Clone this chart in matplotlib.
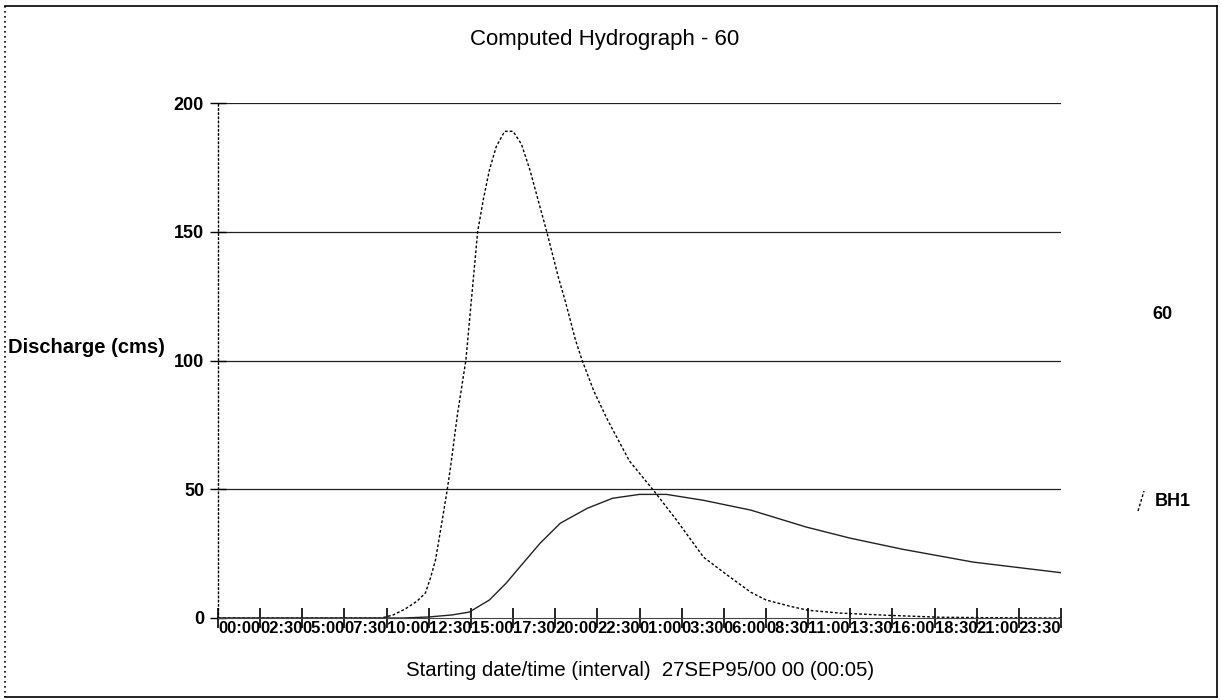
import matplotlib
matplotlib.use("Agg")
import matplotlib.pyplot as plt
from matplotlib.lines import Line2D

plt.rcParams['font.family'] = ['Liberation Sans', 'DejaVu Sans']

# hours since 27SEP95 00:00, discharge in cms
bh1_hours = [0, 9.7, 10.4, 11.1, 11.8, 12.3, 12.6, 12.9, 13.3, 13.6, 13.8, 14.2, 14.7,
             15.05, 15.4, 15.75, 16.1, 16.5, 17.0, 17.5, 18.0, 18.5, 19.0, 19.5, 20.2,
             20.6, 21.2, 21.6, 22.3, 23.1, 24.4, 25.9, 27.2, 28.8, 30.2, 31.6, 32.5,
             33.9, 35.0, 36.9, 39.9, 42.8, 46.0, 50.0]
bh1_flow = [0, 0, 1.2, 3.5, 6.5, 9.7, 15.5, 22.5, 38, 50, 59, 79, 100,
            125, 150, 163, 174, 183, 189, 189, 184, 174, 162, 150, 132,
            123, 108, 100, 88, 77, 61, 49, 38, 23.6, 16.7, 10, 7,
            4.6, 3, 1.9, 1, 0.3, 0.1, 0]

s60_hours = [0, 11.0, 12.5, 13.9, 14.9, 16.1, 17.1, 17.9, 19.1, 20.3, 21.9, 23.4,
             25.0, 26.6, 28.8, 31.6, 34.9, 37.5, 40.6, 44.8, 50.0]
s60_flow = [0, 0, 0.4, 1.2, 2.3, 7, 13.6, 19.8, 29, 36.8, 42.6, 46.5,
            48, 48, 45.7, 41.9, 35.3, 31, 26.7, 21.7, 17.6]

tick_hours = [0, 2.5, 5, 7.5, 10, 12.5, 15, 17.5, 20, 22.5, 25, 27.5, 30, 32.5,
              35, 37.5, 40, 42.5, 45, 47.5, 50]
tick_labels = ['00:00', '02:30', '05:00', '07:30', '10:00', '12:30', '15:00', '17:30',
               '20:00', '22:30', '01:00', '03:30', '06:00', '08:30', '11:00', '13:30',
               '16:00', '18:30', '21:00', '23:30', '']
y_ticks = [0, 50, 100, 150, 200]

fig = plt.figure(figsize=(12.21, 7), dpi=100)
ax = fig.add_axes([218 / 1221, 1 - 618 / 700, 843 / 1221, 515 / 700])

for y in y_ticks[1:]:
    ax.axhline(y, color='#222222', lw=0.9, zorder=1)

ax.plot(bh1_hours, bh1_flow, color='black', lw=1.0, ls=(0, (2, 1.5)), zorder=3)
ax.plot(s60_hours, s60_flow, color='#222222', lw=1.0, zorder=3)

ax.set_xlim(0, 50)
ax.set_ylim(0, 200)
ax.set_xticks(tick_hours)
ax.set_xticklabels(tick_labels, ha='left', fontsize=12, fontweight='bold')
ax.set_yticks(y_ticks)
ax.set_yticklabels([str(v) for v in y_ticks], fontsize=13, fontweight='bold')
ax.tick_params(axis='x', direction='inout', length=14, width=1.2, pad=-5)
ax.tick_params(axis='y', direction='inout', length=12, width=1.0, pad=4)

for side in ['top', 'right']:
    ax.spines[side].set_visible(False)
ax.spines['left'].set_linestyle((0, (1, 2)))
ax.spines['left'].set_linewidth(1.0)
ax.spines['bottom'].set_color('#444444')

fig.text(605 / 1221, 1 - 40 / 700, 'Computed Hydrograph - 60', ha='center', va='center',
         fontsize=16)
fig.text(640 / 1221, 1 - 671 / 700, 'Starting date/time (interval)  27SEP95/00 00 (00:05)',
         ha='center', va='center', fontsize=14.7)
fig.text(8 / 1221, 1 - 347 / 700, 'Discharge (cms)', ha='left', va='center',
         fontsize=14.5, fontweight='bold')

fig.text(1152 / 1221, 1 - 315 / 700, '60', ha='left', va='center', fontsize=13,
         fontweight='bold')
fig.text(1155 / 1221, 1 - 502 / 700, 'BH1', ha='left', va='center', fontsize=13,
         fontweight='bold')
fig.add_artist(Line2D([1138 / 1221, 1144 / 1221], [1 - 511 / 700, 1 - 491 / 700],
                      color='black', lw=1.0, ls=(0, (2, 1.5))))

# page frame from the scan
frame = dict(color='black', lw=1.2)
fig.add_artist(Line2D([5 / 1221, 1217 / 1221], [1 - 6 / 700, 1 - 6 / 700], **frame))
fig.add_artist(Line2D([1217 / 1221, 1217 / 1221], [1 - 6 / 700, 1 - 697 / 700], **frame))
fig.add_artist(Line2D([5 / 1221, 1217 / 1221], [1 - 697 / 700, 1 - 697 / 700], **frame))
fig.add_artist(Line2D([5 / 1221, 5 / 1221], [1 - 6 / 700, 1 - 697 / 700],
                      color='black', lw=1.2, ls=(0, (1, 2))))

fig.savefig('out.png', dpi=100)
